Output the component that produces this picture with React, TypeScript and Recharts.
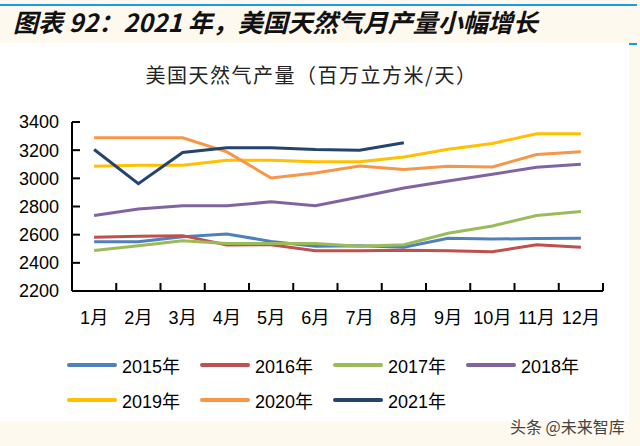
import React from 'react';
import { LineChart, Line, XAxis, YAxis } from 'recharts';

// 月份 / 刻度
const MONTHS = [1, 2, 3, 4, 5, 6, 7, 8, 9, 10, 11, 12];
const Y_TICKS = [2200, 2400, 2600, 2800, 3000, 3200, 3400];

// 百万立方米/天
const V2015 = [2550, 2550, 2586, 2605, 2552, 2517, 2521, 2510, 2574, 2569, 2572, 2574];
const V2016 = [2581, 2588, 2593, 2526, 2529, 2486, 2486, 2490, 2486, 2479, 2529, 2510];
const V2017 = [2488, 2521, 2557, 2538, 2538, 2538, 2517, 2529, 2610, 2662, 2736, 2764];
const V2018 = [2736, 2783, 2805, 2805, 2833, 2805, 2867, 2931, 2981, 3029, 3079, 3100];
const V2019 = [3086, 3093, 3093, 3129, 3129, 3117, 3117, 3152, 3207, 3248, 3317, 3317];
const V2020 = [3288, 3288, 3288, 3188, 3002, 3038, 3088, 3062, 3086, 3081, 3169, 3188];
const V2021 = [3205, 2962, 3184, 3217, 3217, 3205, 3200, 3252];

const SERIES = [
  { key: 'y2015', name: '2015年', values: V2015 },
  { key: 'y2016', name: '2016年', values: V2016 },
  { key: 'y2017', name: '2017年', values: V2017 },
  { key: 'y2018', name: '2018年', values: V2018 },
  { key: 'y2019', name: '2019年', values: V2019 },
  { key: 'y2020', name: '2020年', values: V2020 },
  { key: 'y2021', name: '2021年', values: V2021 },
];

const COLORS: Record<string, string> = {
  y2015: '#4f81bd',
  y2016: '#c0504d',
  y2017: '#9bbb59',
  y2018: '#8064a2',
  y2019: '#ffc000',
  y2020: '#f79646',
  y2021: '#23446e',
};

const data = MONTHS.map((m, i) => {
  const row: any = { m };
  SERIES.forEach((s) => {
    row[s.key] = i < s.values.length ? s.values[i] : null;
  });
  return row;
});

const W = 640;
const H = 446;
const MARGIN = { top: 122, right: 37, bottom: 115, left: 12 };
const Y_W = 60;
const X_H = 40;
const HALF = (W - MARGIN.right - MARGIN.left - Y_W) / 24;

const SANS = '"Liberation Sans", Arial, sans-serif';
const CJK = '"Noto Sans CJK SC", sans-serif';

const MonthTick = ({ x, y, payload }: any) => (
  <g>
    <text x={x} y={y + 33} textAnchor="middle" fontSize={18} fontFamily={SANS} fill="#000">
      {payload.value}
      <tspan fontFamily={CJK}>月</tspan>
    </text>
    <line x1={x + HALF} x2={x + HALF} y1={y} y2={y - 8} stroke="#000" strokeWidth={2} />
  </g>
);

export default function App() {
  return (
    <div style={{ position: 'absolute', left: 0, top: 0, width: W, height: H, background: '#fef9ef', overflow: 'hidden' }}>
      <div style={{ position: 'absolute', left: 0, top: 4, width: 637, height: 2, background: '#1a9ae0' }} />
      <div
        style={{
          position: 'absolute', left: 13, top: 9, fontFamily: CJK, fontSize: 25, lineHeight: '25px',
          fontWeight: 'bold', fontStyle: 'italic', color: '#111', whiteSpace: 'nowrap',
        }}
      >
        图表 92：2021 年，美国天然气月产量小幅增长
      </div>
      <div style={{ position: 'absolute', left: 0, top: 43, width: 629, height: 378, background: '#fff' }} />
      <div style={{ position: 'absolute', left: 629, top: 43, width: 8, height: 2, background: '#1a9ae0' }} />
      <div
        style={{
          position: 'absolute', left: 0, top: 65, width: 623, textAlign: 'center', fontFamily: CJK,
          fontSize: 20, lineHeight: '20px', letterSpacing: 1.5, color: '#222', whiteSpace: 'nowrap',
        }}
      >
        美国天然气产量（百万立方米/天）
      </div>

      <div style={{ position: 'absolute', left: 0, top: 0 }}>
        <LineChart width={W} height={H} data={data} margin={MARGIN}>
          <XAxis
            dataKey="m"
            type="number"
            domain={[0.5, 12.5]}
            ticks={MONTHS}
            interval={0}
            height={X_H}
            tickSize={0}
            tickMargin={0}
            tickLine={false}
            axisLine={{ stroke: '#000', strokeWidth: 2 }}
            tick={<MonthTick />}
          />
          <YAxis
            type="number"
            domain={[2200, 3400]}
            ticks={Y_TICKS}
            interval={0}
            width={Y_W}
            tickSize={-8}
            tickMargin={21}
            axisLine={{ stroke: '#000', strokeWidth: 2 }}
            tickLine={{ stroke: '#000', strokeWidth: 2 }}
            tick={{ fontSize: 18, fill: '#000', fontFamily: SANS }}
          />
          {SERIES.map((s) => (
            <Line
              key={s.key}
              dataKey={s.key}
              name={s.name}
              stroke={COLORS[s.key]}
              strokeWidth={3}
              dot={false}
              activeDot={false}
              type="linear"
              connectNulls={false}
              isAnimationActive={false}
            />
          ))}
        </LineChart>
      </div>

      {SERIES.map((s, i) => {
        const col = i % 4;
        const row = Math.floor(i / 4);
        const left = 67 + col * 133;
        const cy = 365 + row * 35;
        return (
          <div key={s.key}>
            <div style={{ position: 'absolute', left, top: cy - 2, width: 50, height: 4, borderRadius: 2, background: COLORS[s.key] }} />
            <div
              style={{
                position: 'absolute', left: left + 55, top: cy - 11, fontSize: 18, lineHeight: '22px',
                fontFamily: SANS, color: '#000', whiteSpace: 'nowrap',
              }}
            >
              {s.name.slice(0, 4)}
              <span style={{ fontFamily: CJK }}>年</span>
            </div>
          </div>
        );
      })}

      <div
        style={{
          position: 'absolute', left: 510, top: 417, fontSize: 16, lineHeight: '18px', fontFamily: CJK,
          color: '#444', whiteSpace: 'nowrap',
        }}
      >
        头条 @未来智库
      </div>
    </div>
  );
}
